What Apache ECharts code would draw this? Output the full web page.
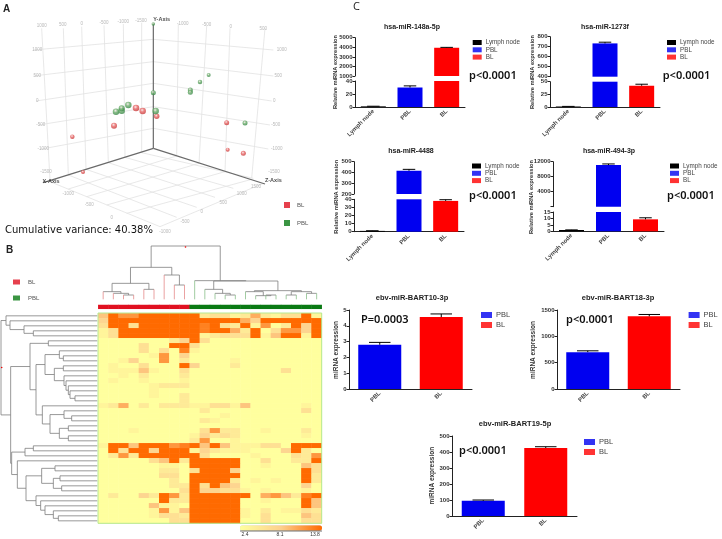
<!DOCTYPE html>
<html><head><meta charset="utf-8">
<style>html,body{margin:0;padding:0;background:#fff}#c{width:722px;height:539px;filter:blur(.35px)}</style>
<script src="https://cdn.jsdelivr.net/npm/echarts@6/dist/echarts.min.js"></script>
</head><body><div id="c"></div>
<script>
// ---------- bar chart data ----------
const cats3 = ['Lymph node','PBL','BL'];
const cats2 = ['PBL','BL'];
const miR148Values = [1,30,3950],   miR148Upper = [1.2,32.5,3990];
const miR1273Values = [1,733,42],   miR1273Upper = [1.2,745,45];
const miR4488Values = [1,416,38],   miR4488Upper = [1.2,429,39.5];
const miR494Values = [1,11100,9.3], miR494Upper = [1.1,11400,10.5];
const bart10Values = [2.8,4.55],    bart10Upper = [2.95,4.75];
const bart18Values = [700,1380],    bart18Upper = [725,1415];
const bart19Values = [95,425],      bart19Upper = [100,433];
// ---------- PCA panel ----------
const pcaBL = [[217,410,4.5],[249,516,4],[342,377,6],[408,324,6.5],[428,333,6.5],[470,349,5.5],[680,368,5],[683,449,4],[730,460,5]];
const pcaPBL = [[348,335,6.5],[365,332,6.5],[365,325,6],[385,315,6.5],[467,333,6.5],[460,278,5],[460,72,3.5],[571,270,5],[571,277,5],[600,246,4.5],[626,225,4],[735,369,5]];
const pcaAxes = [[460,70,460,445],[460,445,130,548],[460,445,795,552]];
const pcaGrid = [
 [125,85,150,540],[190,85,205,525],[245,80,258,508],[312,76,325,488],[370,72,375,472],[425,68,425,458],
 [795,85,755,535],[690,85,675,515],[620,78,597,490],[535,72,530,468],
 [460,118,100,150],[460,185,100,228],[460,250,108,303],[460,320,115,375],[460,385,120,448],
 [460,118,820,150],[460,185,820,228],[460,250,815,303],[460,320,810,375],[460,385,805,447],
 [425,458,760,535],[375,472,700,565],[325,488,645,592],[258,508,590,622],[205,525,530,652],[150,545,480,680],
 [530,468,205,567],[597,490,260,590],[675,515,320,615],[755,538,380,640],[790,550,480,680]
];
const pcaTicks = [
 ['1000',125,78],['500',188,75],['0',245,72],['-500',312,68],['-1000',370,65],['-1500',423,62],
 ['-1000',548,70],['-500',620,75],['0',692,80],['500',790,85],
 ['1000',112,148],['500',112,226],['0',112,302],['-500',122,375],['-1000',130,447],['-1500',138,515],
 ['1000',845,148],['500',835,226],['0',823,302],['-500',827,375],['-1000',830,447],['-1500',822,515],
 ['-1000',205,580],['-500',268,615],['0',335,652],['1500',768,560],['1000',725,580],['500',670,607],['0',605,635],['-500',555,665],['-1000',495,695]
];
const pcaAxisNames = [['Y-Axis',485,58],['X-Axis',153,545],['Z-Axis',820,540]];
// ---------- heat map levels (0 pale .. 9 saturated), one string per row ----------
const heatRows = [
"5977999999233126213391","4999999999999964999999","3993999999893291702949","1399999999899629037749","1399999999123339159919",
"0000000249300000000000","0000300993000000000000","0000303081000000000000","0000017040000000000000","0014007020000100000000",
"0100300094000200000000","0111510030000000003000","0010200020000000000000","0100100010000000000000","0000012220000000000000",
"0000010000000000000000","0000010020000000000000","0000000020000000000000","1260202221133150000010","0000000000200000000030",
"0000000000001000000000","0000000000210000000000","0000000000000000000000","0001000000372200100020","0000000001423200000010",
"0000000002700100000000","1995999789595111330999","0939949991421110004920","0272999999300001000327"
];
const heatRowsB = [
"0000035929999900300229","0000001109999900100053","0000002203999400000093","0000003309999900000092","0000000209999201010092",
"0000000229395400000040","0000000039443310100010","0200429729999990675289","0000009229999900100095","0000051109999900000095",
"0000017159999910201132","0000013329999910300053","0000000339999900300033"
];
const heatTickLabels = ['2.4','8.1','13.8'];
// ---------- dendrograms: [merge position, child, child]; plain numbers are leaves ----------
const rowTree = [3,[18,0,[30,1,[72,2,[100,3,4]]]],
 [32,[90,[145,5,6],[108,
   [135,[178,7,[190,8,9]],[163,[190,10,11],[192,12,[198,13,[205,14,[210,15,[225,16,17]]]]]]],
   [127,18,[150,[192,19,[215,20,21]],[178,[205,22,23],[205,24,25]]]]]],
  [35,[75,[100,26,27],28],[52,29,[78,[125,[165,30,31],[160,[180,32,33],[185,34,35]]],[108,36,[122,37,[135,38,[160,39,[175,40,41]]]]]]]]]];
const colTree = [18,[82,[130,[155,0,[160,1,[165,2,3]]],[148,4,5]],[105,6,[135,7,8]]],
 [122,9,[123,[148,10,[160,11,[165,12,13]]],[152,[155,14,[167,15,[165,16,17]]],[155,[165,18,19],[160,20,21]]]]]];
const colGroups = ['BL','BL','BL','BL','BL','BL','BL','BL','BL','PBL','PBL','PBL','PBL','PBL','PBL','PBL','PBL','PBL','PBL','PBL','PBL','PBL'];

const allHeat = heatRows.concat(heatRowsB);
const heatData = [];
allHeat.forEach((r,y)=>{for(let x=0;x<22;x++)heatData.push([x,y,+r[x]]);});

const FONT='"Liberation Sans",Arial,sans-serif';
const COL={'Lymph node':'#000','PBL':'#0000f0','BL':'#ff0000'};
const PB=[
 {t:'hsa-miR-148a-5p',tx:412,ty:27,v:miR148Values,u:miR148Upper,c:cats3,l:355,w:110,bw:25,lo:[81,107,0,40,20],up:[37.7,76,1000,5000,1000],lg:[472.7,39.5],p:'p<0.0001',px:469,py:77,n:'Relative miRNA expression',nx:335,ny:72},
 {t:'hsa-miR-1273f',tx:605,ty:27,v:miR1273Values,u:miR1273Upper,c:cats3,l:550,w:110,bw:25,lo:[81.7,107,0,50,25],up:[36.7,76.7,400,800,100],lg:[667,39.5],p:'p<0.0001',px:662.7,py:77,n:'Relative miRNA expression',nx:532,ny:72},
 {t:'hsa-miR-4488',tx:411,ty:151,v:miR4488Values,u:miR4488Upper,c:cats3,l:354,w:110,bw:25,lo:[199.3,231.7,0,40,10],up:[161.7,194,200,500,100],lg:[472,163],p:'p<0.0001',px:469,py:197,n:'Relative miRNA expression',nx:336.7,ny:196.7},
 {t:'hsa-miR-494-3p',tx:609,ty:151,v:miR494Values,u:miR494Upper,c:cats3,l:553,w:111,bw:25,lo:[212,231.3,0,15,5],up:[161.7,206.7,0,12000,4000],lg:[670,163],p:'p<0.0001',px:667,py:197,n:'Relative miRNA expression',nx:531,ny:197,hz:1},
 {t:'ebv-miR-BART10-3p',tx:412,ty:298,v:bart10Values,u:bart10Upper,c:cats2,l:349,w:123,bw:43,lo:[310,389,0,5,1],lg:[481,311],p:'P=0.0003',px:361,py:321,n:'miRNA expression',nx:336,ny:350,fs:7.5},
 {t:'ebv-miR-BART18-3p',tx:618,ty:298,v:bart18Values,u:bart18Upper,c:cats2,l:557,w:123,bw:43,lo:[310,389,0,1500,500],lg:[688.6,311],p:'p<0.0001',px:566,py:321,n:'miRNA expression',nx:533,ny:350,fs:7.5},
 {t:'ebv-miR-BART19-5p',tx:515,ty:424,v:bart19Values,u:bart19Upper,c:cats2,l:452,w:125,bw:43,lo:[436,516,0,500,100],lg:[584,438],p:'p<0.0001',px:459,py:452,n:'miRNA expression',nx:432,ny:475.7,fs:7.5}
];

const grid=[],xAxis=[],yAxis=[],series=[],title=[],legend=[],graphic=[];
// page plane for schematic panels
grid.push({left:0,top:0,width:722,height:539});
xAxis.push({gridIndex:0,type:'value',min:0,max:722,show:false});
yAxis.push({gridIndex:0,type:'value',min:0,max:539,inverse:true,show:false});

function seg(a){return a.map(s=>({coords:[[s[0]/3,s[1]/3],[s[2]/3,s[3]/3]]}));}
series.push({type:'lines',coordinateSystem:'cartesian2d',polyline:true,xAxisIndex:0,yAxisIndex:0,silent:true,data:seg(pcaGrid),lineStyle:{color:'#e2e2e2',width:.8,opacity:1},z:1});
series.push({type:'lines',coordinateSystem:'cartesian2d',polyline:true,xAxisIndex:0,yAxisIndex:0,silent:true,data:seg(pcaAxes),lineStyle:{color:'#6a6a6a',width:1.2,opacity:1},z:2});
const ball=(c,e)=>({type:'radial',x:.42,y:.35,r:.7,colorStops:[{offset:0,color:'#f5e8e8'},{offset:.4,color:c},{offset:1,color:e}]});
function pcaSeries(name,d,c,e){series.push({name,type:'scatter',xAxisIndex:0,yAxisIndex:0,data:d.map(p=>[p[0]/3,p[1]/3,p[2]]),symbolSize:v=>v[2],itemStyle:{color:ball(c,e)},z:5,silent:true});}
pcaSeries('BL',pcaBL,'#e96a6a','#c23030');
pcaSeries('PBL',pcaPBL,'#6fb06f','#2f7f3f');
function txtSeries(items,style){series.push({type:'scatter',xAxisIndex:0,yAxisIndex:0,silent:true,symbolSize:0,z:6,
  data:items.map(t=>({value:[t[1]/3,t[2]/3],name:t[0]})),label:Object.assign({show:true,position:'inside',formatter:'{b}',fontFamily:FONT},style)});}
txtSeries(pcaTicks,{fontSize:4.5,color:'#a8a8a8'});
txtSeries(pcaAxisNames,{fontSize:5.5,fontWeight:'bold',color:'#222'});

// dendrograms
const dGray=[],dBL=[],dPBL=[];
function walkRow(n){ if(typeof n==='number') return {y:227.5+15*n,x:292};
  const a=walkRow(n[1]),b=walkRow(n[2]);
  dGray.push({coords:[[a.x/3,240+a.y/3],[n[0]/3,240+a.y/3],[n[0]/3,240+b.y/3],[b.x/3,240+b.y/3]]});
  return {x:n[0],y:(a.y+b.y)/2};}
walkRow(rowTree);
function walkCol(n){ if(typeof n==='number') return {x:309.5+30.5*n,y:178,leaf:n};
  const a=walkCol(n[1]),b=walkCol(n[2]);
  const py=n[0];
  dGray.push({coords:[[a.x/3,240+py/3],[b.x/3,240+py/3]]});
  [a,b].forEach(k=>{(k.leaf===undefined?dGray:(colGroups[k.leaf]==='BL'?dBL:dPBL)).push({coords:[[k.x/3,240+py/3],[k.x/3,240+k.y/3]]});});
  return {x:(a.x+b.x)/2,y:py};}
walkCol(colTree);
[[dGray,'#7d7d7d'],[dBL,'#e58a8a'],[dPBL,'#8abf8a']].forEach(([d,c])=>series.push({type:'lines',coordinateSystem:'cartesian2d',polyline:true,xAxisIndex:0,yAxisIndex:0,silent:true,data:d,lineStyle:{color:c,width:.8,opacity:1},z:3}));

// annotation band above heat map
grid.push({left:98.3,top:305,width:223.4,height:3.8});
xAxis.push({gridIndex:1,type:'category',data:colGroups.map((g,i)=>i),show:false});
yAxis.push({gridIndex:1,type:'category',data:['g'],show:false});
series.push({type:'heatmap',xAxisIndex:1,yAxisIndex:1,silent:true,data:colGroups.map((g,i)=>({value:[i,0,g==='BL'?0:1],itemStyle:{color:g==='BL'?'#e01020':'#0a7a14'}}))});

// heat map
grid.push({left:98.3,top:313.3,width:223.4,height:210});
xAxis.push({gridIndex:2,type:'category',data:colGroups.map((g,i)=>i),show:false});
yAxis.push({gridIndex:2,type:'category',inverse:true,data:allHeat.map((r,i)=>i),show:false});
series.push({type:'heatmap',xAxisIndex:2,yAxisIndex:2,silent:true,data:heatData,progressive:0});
const heatIdx=series.length-1;

// bar panels
PB.forEach(p=>{
  const segs=p.up?[['lo',p.lo],['up',p.up]]:[['lo',p.lo]];
  segs.forEach(([k,s])=>{
    const gi=grid.length;
    // a value is drawn in the upper segment only when it overflows the lower one
    const inUpper=v=>v>p.lo[3];
    grid.push({left:p.l,top:s[0],width:p.w,height:s[1]-s[0]});
    xAxis.push({gridIndex:gi,type:'category',data:p.c,show:k==='lo',
      axisLine:{lineStyle:{color:'#222',width:1}},axisTick:{alignWithLabel:true,length:2.5,lineStyle:{color:'#222'}},
      axisLabel:{rotate:45,fontSize:6,fontWeight:'bold',fontFamily:FONT,color:'#444',margin:3.5,interval:0}});
    yAxis.push({gridIndex:gi,type:'value',min:s[2],max:s[3],interval:s[4],
      axisLine:{show:true,lineStyle:{color:'#222',width:1}},axisTick:{show:true,length:2.5,lineStyle:{color:'#222'}},splitLine:{show:false},
      axisLabel:{fontSize:6,fontWeight:'bold',fontFamily:FONT,color:'#333',margin:2.5,formatter:v=>(p.hz&&k==='up'&&v===0)?'':String(v)}});
    p.c.forEach((name,i)=>{
      const shown=k==='lo'||inUpper(p.v[i]);
      series.push({name,type:'bar',xAxisIndex:gi,yAxisIndex:gi,barWidth:p.bw,barGap:'-100%',silent:true,clip:true,
        data:p.c.map((c,j)=>(j===i&&shown)?p.v[i]:null),itemStyle:{color:COL[name]},z:3});
    });
    series.push({type:'custom',xAxisIndex:gi,yAxisIndex:gi,silent:true,z:4,
      data:p.c.map((c,j)=>[j,p.v[j],p.u[j]]).filter(d=>k==='lo'?d[1]<=s[3]:inUpper(d[1])),
      encode:{x:0,y:[1,2]},
      renderItem:(params,api)=>{
        const a=api.coord([api.value(0),api.value(1)]),b=api.coord([api.value(0),api.value(2)]);
        const cap=p.bw*.5;
        const st={stroke:'#000',lineWidth:1,fill:null};
        return {type:'group',children:[
          {type:'line',shape:{x1:a[0],y1:a[1],x2:b[0],y2:b[1]},style:st},
          {type:'line',shape:{x1:b[0]-cap/2,y1:b[1],x2:b[0]+cap/2,y2:b[1]},style:st}]};
      }});
  });
  title.push({text:p.t,left:p.tx,top:p.ty-5,textAlign:'center',padding:0,textStyle:{fontFamily:FONT,fontSize:p.fs||7,fontWeight:'bold',color:'#222',lineHeight:10}});
  legend.push({left:p.lg[0],top:p.lg[1],orient:'vertical',padding:0,itemGap:p.up?1.3:2,itemWidth:p.up?9:11,itemHeight:p.up?5:6,
     data:p.c.map(name=>({name,itemStyle:{color:COL[name]}})),icon:'rect',selectedMode:false,
     textStyle:{fontFamily:FONT,fontSize:p.up?6.3:7.5,color:'#444',padding:[0,0,0,-1]}});
  graphic.push({type:'text',left:p.px,top:p.py-7,z:20,style:{text:p.p,fontFamily:'"Noto Sans"',fontSize:11,fontWeight:600,fill:'#111'}});
  graphic.push({type:'text',x:p.nx,y:p.ny,rotation:Math.PI/2,z:20,style:{text:p.n,align:'center',verticalAlign:'middle',fontFamily:FONT,fontSize:p.fs?6.5:5.7,fontWeight:'bold',fill:'#333'}});
});

// panel letters and labels
title.push({text:'A',left:3,top:4,padding:0,textStyle:{fontFamily:FONT,fontSize:10,fontWeight:'bold',color:'#222'}});
title.push({text:'B',left:6,top:245,padding:0,textStyle:{fontFamily:FONT,fontSize:10,fontWeight:'bold',color:'#222'}});
title.push({text:'C',left:353,top:1,padding:0,textStyle:{fontFamily:'"Open Sans"',fontSize:11,fontWeight:'normal',color:'#222'}});
title.push({text:'Cumulative variance: 40.38%',left:5,top:225,padding:0,textStyle:{fontFamily:'"DejaVu Sans"',fontSize:10,fontWeight:'normal',color:'#111'}});

legend.push({left:284,top:202,orient:'vertical',padding:0,itemGap:12,itemWidth:6,itemHeight:6,icon:'rect',selectedMode:false,
  data:[{name:'BL',itemStyle:{color:'#e01020'}},{name:'PBL',itemStyle:{color:'#0a7a14'}}],textStyle:{fontFamily:FONT,fontSize:6,color:'#555',padding:[0,0,0,2]}});
legend.push({left:13,top:279,orient:'vertical',padding:0,itemGap:10,itemWidth:7,itemHeight:5,icon:'rect',selectedMode:false,
  data:[{name:'BL',itemStyle:{color:'#e01020'}},{name:'PBL',itemStyle:{color:'#0a7a14'}}],textStyle:{fontFamily:FONT,fontSize:6,color:'#555',padding:[0,0,0,3]}});

// heat frame, colour bar ticks
graphic.push({type:'rect',shape:{x:98,y:313,width:223.7,height:210.3},z:20,style:{fill:null,stroke:'#b6e88f',lineWidth:1}});
graphic.push({type:'line',shape:{x1:240,y1:531,x2:322,y2:531},z:20,style:{stroke:'#333',lineWidth:.7}});
[245,280,315].forEach((x,i)=>graphic.push({type:'text',x,y:534.5,z:20,style:{text:heatTickLabels[i],align:'center',verticalAlign:'middle',fontFamily:FONT,fontSize:5,fill:'#333'}}));
// root markers on dendrograms
graphic.push({type:'circle',shape:{cx:185.5,cy:247,r:.8},z:20,style:{fill:'#e00'}});
graphic.push({type:'circle',shape:{cx:1.7,cy:367.5,r:.8},z:20,style:{fill:'#e00'}});

const chart=echarts.init(document.getElementById('c'),null,{renderer:'canvas'});
chart.setOption({animation:false,backgroundColor:'#fff',tooltip:{show:false},grid,xAxis,yAxis,series,title,legend,graphic:{elements:graphic},
  visualMap:[{type:'continuous',seriesIndex:heatIdx,min:0,max:9,orient:'horizontal',left:240,top:525.3,itemWidth:5.4,itemHeight:82,padding:0,calculable:false,
    inRange:{color:['#FFFF9E','#FDD08E','#FF6A00']},textStyle:{fontSize:1}}]});
</script></body></html>
